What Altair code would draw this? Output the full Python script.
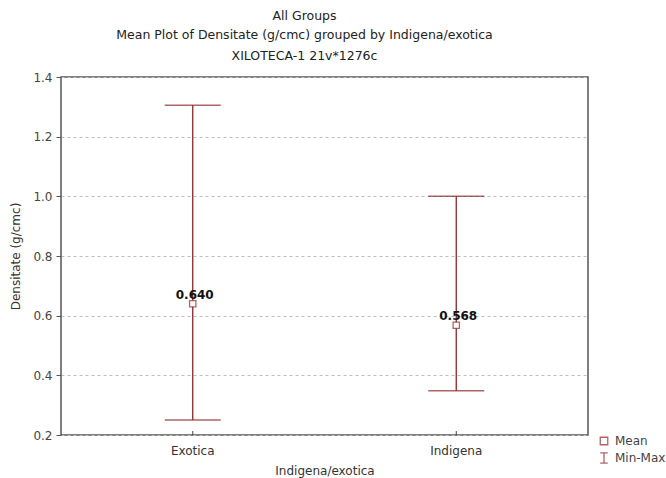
import altair as alt
import pandas as pd

groups = ["Exotica", "Indigena"]
means = [0.640, 0.568]
mins = [0.25, 0.348]
maxs = [1.305, 1.0]
mean_labels = ["0.640", "0.568"]
legend_items = ["Mean", "Min-Max"]

df = pd.DataFrame({"grp": groups, "mean": means, "lo": mins, "hi": maxs,
                   "lbl": mean_labels, "kind": ["Mean"] * len(groups)})

RED = "#8b2424"
FONT = "DejaVu Sans"
FS = 12
W, H = 527, 358

xenc = alt.X("grp:N", scale=alt.Scale(paddingInner=0, paddingOuter=0),
             axis=alt.Axis(title="Indigena/exotica", labelAngle=0, ticks=False,
                           labelPadding=10, titlePadding=9, domain=False,
                           labelFontSize=FS, titleFontSize=FS, labelColor="#333",
                           titleColor="#333", labelFont=FONT, titleFont=FONT,
                           titleFontWeight="normal"))
yscale = alt.Scale(domain=[0.2, 1.4], nice=False, zero=False)
yaxis = alt.Axis(title="Densitate (g/cmc)", values=[0.2, 0.4, 0.6, 0.8, 1.0, 1.2, 1.4],
                 format=".1f", tickSize=5, tickColor="#555", domain=False,
                 gridDash=[3, 3], gridColor="#bdbdbd", labelFontSize=FS,
                 titleFontSize=FS, labelColor="#444", titleColor="#333",
                 labelFont=FONT, titleFont=FONT, titlePadding=10, labelPadding=4,
                 titleFontWeight="normal")

base = alt.Chart(df)

rule = base.mark_rule(color=RED, strokeWidth=1.3).encode(
    x=xenc, y=alt.Y("lo:Q", scale=yscale, axis=yaxis), y2="hi:Q")
cap_lo = base.mark_tick(color=RED, size=56, thickness=1.5, orient="horizontal").encode(
    x="grp:N", y="lo:Q")
cap_hi = base.mark_tick(color=RED, size=56, thickness=1.5, orient="horizontal").encode(
    x="grp:N", y="hi:Q")
xticks = base.mark_rule(color="#444", strokeWidth=1).encode(
    x="grp:N", y=alt.value(H), y2=alt.value(H - 4))
bg = base.mark_square(color="white", opacity=1, size=40).encode(x="grp:N", y="mean:Q")
pts = base.mark_point(filled=False, color=RED, strokeWidth=1.3, size=40).encode(
    x="grp:N", y="mean:Q",
    shape=alt.Shape("kind:N",
                    scale=alt.Scale(domain=legend_items,
                                    range=["square", "M-1,-1.35H1M0,-1.35V1.35M-1,1.35H1"]),
                    legend=alt.Legend(title=None, orient="none", legendX=537, legendY=358,
                                      labelFont=FONT, labelFontSize=FS, labelColor="#444",
                                      symbolStrokeColor=RED, symbolSize=56,
                                      symbolStrokeWidth=1.3,
                                      rowPadding=2, labelOffset=5)))
labels = base.mark_text(font=FONT, fontSize=FS, fontWeight="bold", color="#111",
                        dy=-9, dx=2).encode(x="grp:N", y="mean:Q", text="lbl:N")

chart = alt.layer(rule, cap_lo, cap_hi, xticks, bg, pts, labels).properties(
    width=W, height=H,
    title=alt.TitleParams(
        text=["All Groups", "Mean Plot of Densitate (g/cmc) grouped by  Indigena/exotica"],
        subtitle="XILOTECA-1 21v*1276c",
        font=FONT, fontSize=12.5, fontWeight="normal", color="#222",
        subtitleFont=FONT, subtitleFontSize=12.5, subtitleColor="#222",
        anchor="middle", dx=-20, offset=9, lineHeight=19, subtitlePadding=8),
    autosize=alt.AutoSizeParams(type="none"),
    padding={"left": 61, "top": 77, "right": 78, "bottom": 43},
).configure(background="white", view=alt.ViewConfig(stroke="#555", strokeWidth=1.5))

chart.save("out.html", embed_options={"renderer": "svg", "actions": False})
